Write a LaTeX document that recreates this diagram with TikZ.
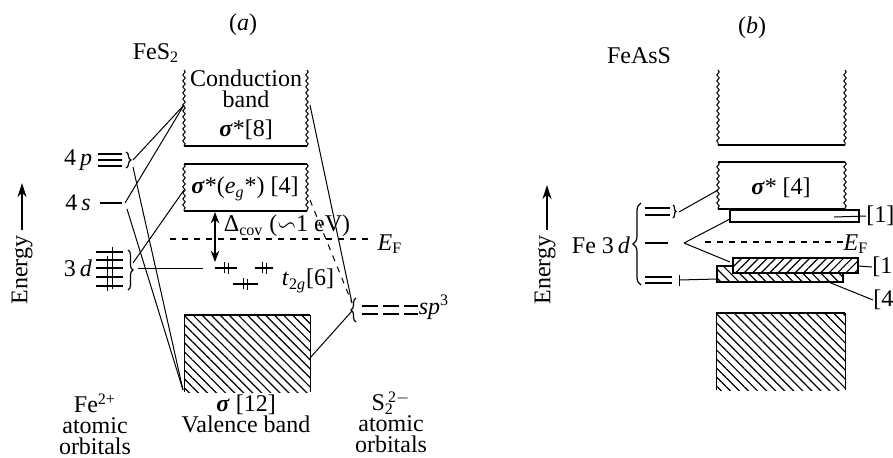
\documentclass[tikz,border=0pt]{standalone}
\usepackage{amsmath, amssymb}
\usepackage{fontspec}
\setmainfont{Liberation Serif}
\usetikzlibrary{arrows.meta, positioning, decorations.pathmorphing, decorations.pathreplacing, patterns.meta}
\newcommand{\bsig}{\textbf{\textit{σ}}}

\begin{document}
\begin{tikzpicture}[x=0.5pt, y=-0.5pt,
    wavy/.style={decorate, decoration={snake, amplitude=0.6pt, segment length=3pt}, line width=0.5pt},
    edge/.style={line width=0.9pt},
    link/.style={line width=0.5pt},
    level/.style={line width=0.7pt},
    cbrace/.style={decorate, decoration={brace, amplitude=2.5pt}, line width=0.6pt},
    hatchdown/.style={pattern={Lines[angle=-45, distance=3.2pt, line width=0.6pt]}},
    hatchup/.style={pattern={Lines[angle=45, distance=3pt, line width=0.6pt]}},
    lbl/.style={font=\fontsize{12}{14}\selectfont, inner sep=0pt},
    stack/.style={font=\fontsize{12}{10.5}\selectfont, inner sep=0pt, align=center},
    arrow/.style={-{Stealth[length=2.5mm, width=1.6mm]}, line width=0.6pt}
]
    \useasboundingbox (0,0) rectangle (893,457);

    % ---------------- (a) FeS2 ----------------
    \node[lbl] (tita) at (243,25) {(\textit{a})};
    \node[lbl] (fes) at (156,53) {FeS\textsubscript{2}};

    % Energy axis
    \coordinate (ea0) at (22,230);
    \coordinate (ea1) at (22,183);
    \draw[arrow] (ea0) -- (ea1);
    \node[lbl, rotate=90] (ena) at (22,270) {Energy};

    % Conduction band
    \draw[wavy] (184,70) -- (184,146);
    \draw[wavy] (307,70) -- (307,146);
    \draw[edge] (184,146) -- (307,146);
    \node[stack] (cond) at (246,89) {Conduction\\band};
    \node[lbl] (sig8) at (246,130) {\bsig*[8]};

    % sigma*(eg*) band
    \draw[edge] (184,164) -- (307,164);
    \draw[edge] (184,211) -- (307,211);
    \draw[wavy] (184,164) -- (184,211);
    \draw[wavy] (307,164) -- (307,211);
    \node[lbl] (eg) at (245,189) {\bsig*(\textit{e}\textsubscript{\textit{g}}*) [4]};

    % Valence band
    \fill[hatchdown] (184,315) rectangle (310,392);
    \draw[edge] (184,315) -- (310,315);
    \draw[link] (184,315) -- (184,392);
    \draw[link] (310,315) -- (310,392);

    % Fermi level and gap
    \draw[dashed, line width=0.6pt] (170,239) -- (368,239);
    \node[lbl] (efa) at (390,244) {\textit{E}\textsubscript{F}};
    \coordinate (gap0) at (215,212);
    \coordinate (gap1) at (215,262);
    \draw[{Stealth[length=2mm]}-{Stealth[length=2mm]}, line width=0.6pt] (gap0) -- (gap1);
    \node[lbl] (dcov) at (287,226) {Δ\textsubscript{cov} ($\backsim$1 eV)};

    % t2g levels
    \draw[level] (215,268) -- (237,268);
    \draw[level] (255,268) -- (273,268);
    \draw[level] (233,284) -- (258,284);
    \foreach \x/\y in {226/268, 264/268, 245/284} {
        \draw[link] ({\x-2},{\y-6}) -- ({\x-2},{\y+5});
        \draw[link] ({\x+2},{\y-5}) -- ({\x+2},{\y+6});
    }
    \node[lbl] (t2g) at (308,281) {\textit{t}\textsubscript{2\textit{g}}[6]};

    % Fe2+ atomic orbitals
    \node[lbl] (p4) at (78,160) {4\,\textit{p}};
    \foreach \y in {154,160,166}
        \draw[level] (98,\y) -- (122,\y);
    \draw[cbrace] (126,152) -- (126,168);
    \node[lbl] (s4) at (78,203) {4\,\textit{s}};
    \draw[level] (100,203) -- (122,203);
    \node[lbl] (d3) at (78,268) {3\,\textit{d}};
    \foreach \y in {252,260,268,277,286}
        \draw[level] (96,\y) -- (123,\y);
    \draw[link] (107,256) -- (107,291);
    \draw[link] (112,247) -- (112,289);
    \draw[cbrace] (128,250) -- (128,290);

    % S2 atomic orbitals
    \draw[cbrace] (356,322) -- (356,298);
    \draw[level, dash pattern=on 8pt off 2.5pt] (362,306) -- (418,306);
    \draw[level, dash pattern=on 8pt off 2.5pt] (362,314) -- (418,314);
    \node[lbl] (sp3) at (434,307) {\textit{sp}\textsuperscript{3}};

    % connector ends
    \coordinate (p4a) at (133,160);
    \coordinate (p4b) at (133,167);
    \coordinate (s4a) at (125,203);
    \coordinate (s4b) at (127,209);
    \coordinate (d3a) at (133,263);
    \coordinate (d3b) at (138,268);
    \coordinate (condL) at (184,105);
    \coordinate (condR) at (310,105);
    \coordinate (egL) at (184,190);
    \coordinate (egR) at (310,200);
    \coordinate (valL) at (183,390);
    \coordinate (valR) at (310,358);
    \coordinate (t2gL) at (203,268);
    \coordinate (spA) at (352,303);
    \coordinate (spB) at (352,311);

    % Connections
    \draw[link] (p4a) -- (condL);
    \draw[link] (s4a) -- (condL);
    \draw[link] (p4b) -- (valL);
    \draw[link] (s4b) -- (valL);
    \draw[link] (d3a) -- (egL);
    \draw[link] (d3b) -- (t2gL);
    \draw[link] (condR) -- (spA);
    \draw[link, dashed] (egR) -- (spA);
    \draw[link] (valR) -- (spB);

    % bottom labels
    \node[stack, anchor=north] (fe2) at (95,393) {Fe\textsuperscript{2+}\\atomic\\orbitals};
    \node[stack, anchor=north] (val) at (246,394) {\bsig\ [12]\\Valence band};
    \node[stack, anchor=north] (s22) at (391,391) {S\textsubscript{2}\kern-0.35em\textsuperscript{\,2$-$}\\atomic\\orbitals};

    % ---------------- (b) FeAsS ----------------
    \node[lbl] (titb) at (752,28) {(\textit{b})};
    \node[lbl] (feass) at (639,56) {FeAsS};

    % Energy axis
    \coordinate (eb0) at (547,230);
    \coordinate (eb1) at (547,185);
    \draw[arrow] (eb0) -- (eb1);
    \node[lbl, rotate=90] (enb) at (545,270) {Energy};

    % upper band
    \draw[wavy] (718,70) -- (718,145);
    \draw[wavy] (845,70) -- (845,145);
    \draw[edge] (718,145) -- (845,145);

    % sigma* band
    \draw[edge] (718,162) -- (845,162);
    \draw[edge] (718,209) -- (845,209);
    \draw[wavy] (718,162) -- (718,209);
    \draw[wavy] (845,162) -- (845,209);
    \node[lbl] (sigb) at (781,188) {\bsig* [4]};

    % narrow empty band [1]
    \draw[edge] (730,210) rectangle (859,222);
    \node[lbl, anchor=west] (one1) at (866,216) {[1]};
    \coordinate (one1a) at (834,217);
    \draw[link] (one1a) -- (one1.west);

    % Fermi level
    \draw[dashed, line width=0.6pt] (705,242) -- (845,242);
    \node[lbl] (efb) at (856,244) {\textit{E}\textsubscript{F}};

    % filled bands [4] and [1]
    \draw[edge, hatchdown, preaction={fill=white}] (717,266) rectangle (843,282);
    \draw[edge, hatchup, preaction={fill=white}] (733,258) rectangle (858,273);
    \node[lbl, anchor=west] (one2) at (872,267) {[1]};
    \coordinate (one2a) at (858,266);
    \draw[link] (one2a) -- (one2.west);
    \node[lbl, anchor=west] (four) at (873,300) {[4]};
    \coordinate (foura) at (826,281);
    \draw[link] (foura) -- (four.west);

    % Valence band
    \fill[hatchdown] (716,313) rectangle (845,390);
    \draw[edge] (716,313) -- (845,313);
    \draw[link] (716,313) -- (716,390);
    \draw[link] (845,313) -- (845,390);

    % Fe 3d levels
    \node[lbl] (fe3d) at (601,245) {Fe 3\,\textit{d}};
    \draw[cbrace, decoration={brace, amplitude=4pt}] (641,285) -- (641,203);
    \foreach \y in {208,215}
        \draw[level] (645,\y) -- (670,\y);
    \draw[cbrace, decoration={brace, amplitude=1.5pt}] (673,205) -- (673,218);
    \draw[level] (645,243) -- (668,243);
    \foreach \y in {277,283}
        \draw[level] (645,\y) -- (672,\y);
    \draw[link] (679,275) -- (679,286);

    % connector ends
    \coordinate (upA) at (679,212);
    \coordinate (midA) at (684,243);
    \coordinate (lowA) at (679,280);
    \coordinate (sigbL) at (718,190);
    \coordinate (oneL) at (730,219);
    \coordinate (hatL) at (730,262);
    \coordinate (fourL) at (717,279);

    % Connections
    \draw[link] (upA) -- (sigbL);
    \draw[link] (midA) -- (oneL);
    \draw[link] (midA) -- (hatL);
    \draw[link] (lowA) -- (fourL);

\end{tikzpicture}
\end{document}
